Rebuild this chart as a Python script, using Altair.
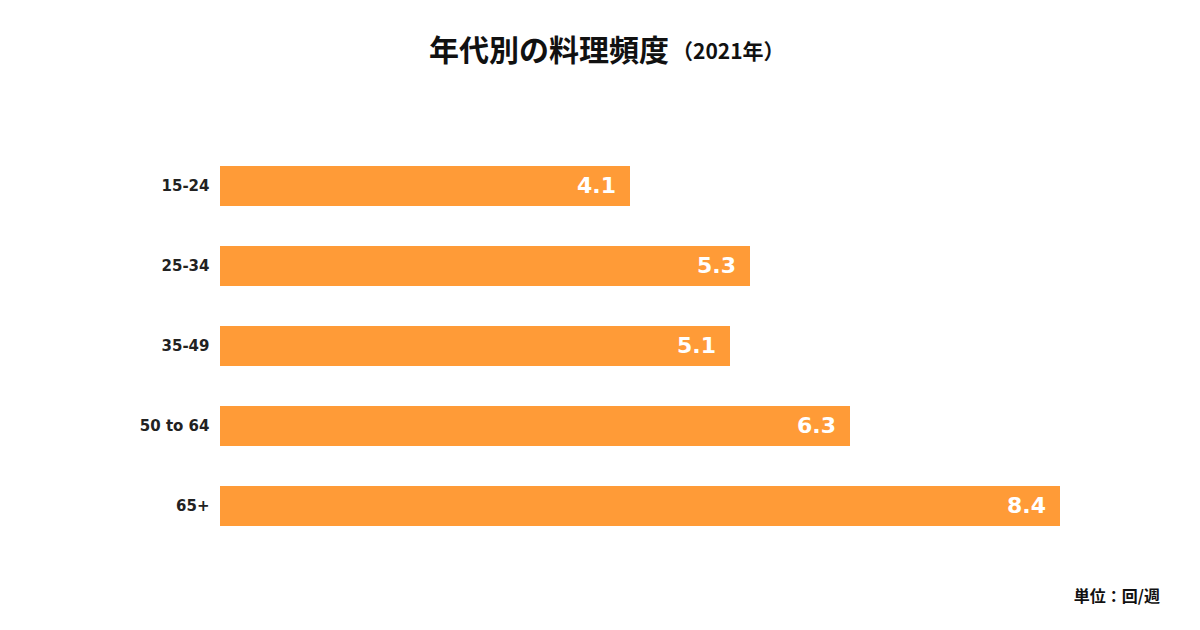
import altair as alt
import pandas as pd

ages = ["15-24", "25-34", "35-49", "50 to 64", "65+"]
values = [4.1, 5.3, 5.1, 6.3, 8.4]
title_main = "年代別の料理頻度"
title_sub = "（2021年）"
unit_note = "単位：回/週"

df = pd.DataFrame({"age": ages, "value": values})
base = alt.Chart(df)

x = alt.X("value:Q", scale=alt.Scale(domain=[0, 8.4], nice=False, zero=True), axis=None)
y = alt.Y(
    "age:N", sort=ages, title=None,
    scale=alt.Scale(paddingInner=0.5, paddingOuter=0.5),
    axis=alt.Axis(domain=False, ticks=False, grid=False, labelFont="DejaVu Sans",
                  labelFontSize=15, labelFontWeight="bold", labelColor="#222222",
                  labelPadding=11),
)

bars = base.mark_bar(color="#FF9B37").encode(x=x, y=y)
labels = base.mark_text(
    align="right", baseline="middle", dx=-14, color="white",
    font="DejaVu Sans", fontSize=22, fontWeight="bold",
).encode(x=x, y=alt.Y("age:N", sort=ages), text=alt.Text("value:Q", format=".1f"))

ann = alt.Chart(pd.DataFrame({"k": [0]}))
t1 = ann.mark_text(text=title_main, align="right", baseline="middle",
                   font="Noto Sans CJK JP", fontSize=30, fontWeight="bold",
                   color="#111111").encode(x=alt.value(449), y=alt.value(-74))
t2 = ann.mark_text(text=title_sub, align="left", baseline="middle",
                   font="Noto Sans CJK JP", fontSize=21, fontWeight="bold",
                   color="#111111").encode(x=alt.value(452), y=alt.value(-73))
t3 = ann.mark_text(text=unit_note, align="right", baseline="middle",
                   font="Noto Sans CJK JP", fontSize=16, fontWeight="bold",
                   color="#111111").encode(x=alt.value(940), y=alt.value(471))

chart = alt.layer(bars, labels, t1, t2, t3).properties(
    width=840, height=440,
    autosize=alt.AutoSizeParams(type="none"),
    padding={"left": 212, "top": 118, "right": 132, "bottom": 56},
    background="white",
).configure_view(stroke=None)

chart.save("out.html", embed_options={"renderer": "svg", "actions": False})
